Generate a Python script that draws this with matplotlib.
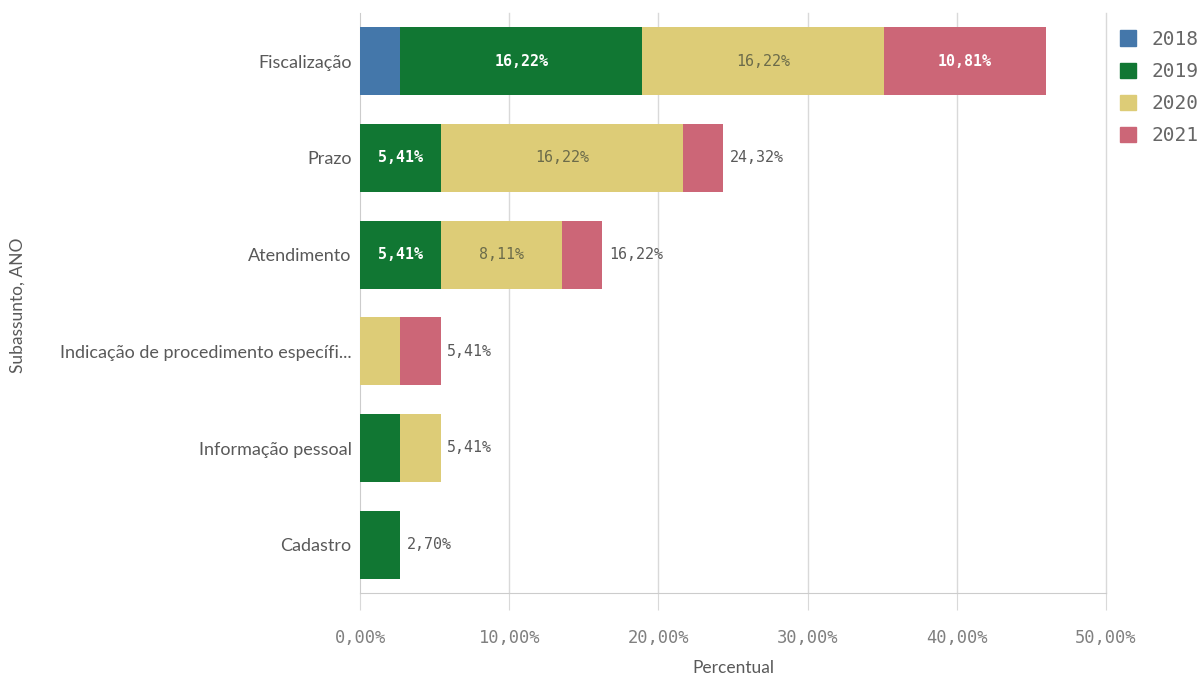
import matplotlib
matplotlib.use("Agg")
import matplotlib.pyplot as plt
from matplotlib.patches import Patch
from matplotlib.ticker import FuncFormatter

# data (percent of total), top to bottom
categories = ["Fiscalização", "Prazo", "Atendimento",
              "Indicação de procedimento específi...", "Informação pessoal", "Cadastro"]
years = ["2018", "2019", "2020", "2021"]
v2018 = [2.70, 0.0, 0.0, 0.0, 0.0, 0.0]
v2019 = [16.22, 5.41, 5.41, 0.0, 2.70, 2.70]
v2020 = [16.22, 16.22, 8.11, 2.70, 2.70, 0.0]
v2021 = [10.81, 2.70, 2.70, 2.70, 0.0, 0.0]
totals = [45.95, 24.32, 16.22, 5.41, 5.41, 2.70]
show_total = [False, True, True, True, True, True]

colors = ["#4477aa", "#117733", "#ddcc77", "#cc6677"]
label_colors = ["white", "white", "#6b6b4a", "white"]
MONO = "DejaVu Sans Mono"
GREY = "#595959"


def pct(v):
    return f"{v:.2f}".replace(".", ",") + "%"


fig = plt.figure(figsize=(12.01, 6.75), dpi=100)
ax = fig.add_axes([360 / 1201, 1 - 593 / 675, 746 / 1201, 580 / 675])

ypos = list(range(len(categories)))[::-1]
left = [0.0] * len(categories)
for yr, vals, c, lc in zip(years, [v2018, v2019, v2020, v2021], colors, label_colors):
    ax.barh(ypos, vals, left=left, height=0.7, color=c, zorder=3)
    for y, l, v in zip(ypos, left, vals):
        if v >= 5:
            ax.text(l + v / 2, y, pct(v), ha="center", va="center", color=lc,
                    fontsize=10.8, family=MONO,
                    fontweight="bold" if lc == "white" else "normal", zorder=4)
    left = [a + b for a, b in zip(left, vals)]

for y, t, s in zip(ypos, totals, show_total):
    if s:
        ax.text(t + 0.45, y, pct(t), ha="left", va="center", color=GREY,
                fontsize=10.8, family=MONO, zorder=4)

ax.set_xlim(0, 50)
ax.set_ylim(-0.5, len(categories) - 0.5)
ax.set_xticks(range(0, 51, 10))
ax.xaxis.set_major_formatter(FuncFormatter(lambda x, _: pct(x)))
ax.set_yticks(ypos)
ax.set_yticklabels(categories, fontsize=13, color=GREY, family="Lato")
ax.tick_params(axis="y", length=0, pad=6)
ax.tick_params(axis="x", length=12, color="#d9d9d9", pad=14, labelsize=12.3,
               labelcolor="#808080")
for lab in ax.get_xticklabels():
    lab.set_family(MONO)
for x in range(10, 51, 10):
    ax.axvline(x, color="#d9d9d9", linewidth=1, zorder=0, clip_on=False)
for s in ["top", "right"]:
    ax.spines[s].set_visible(False)
ax.spines["left"].set_color("#cccccc")
ax.spines["bottom"].set_color("#cccccc")

ax.set_xlabel("Percentual", fontsize=12.5, color=GREY, family="Lato", labelpad=9)
fig.text(18 / 1201, 1 - 305 / 675, "Subassunto, ANO", rotation=90, ha="center",
         va="center", fontsize=12.5, color=GREY, family="Lato")

handles = [Patch(color=c, label=y) for y, c in zip(years, colors)]
fig.legend(handles=handles, loc="upper left", bbox_to_anchor=(1112 / 1201, 1 - 22 / 675),
           frameon=False, prop={"family": MONO, "size": 14}, labelcolor="#666666",
           handlelength=0.85, handleheight=0.85, handletextpad=0.8, labelspacing=0.68,
           borderaxespad=0)

fig.savefig("out.png", dpi=100)
